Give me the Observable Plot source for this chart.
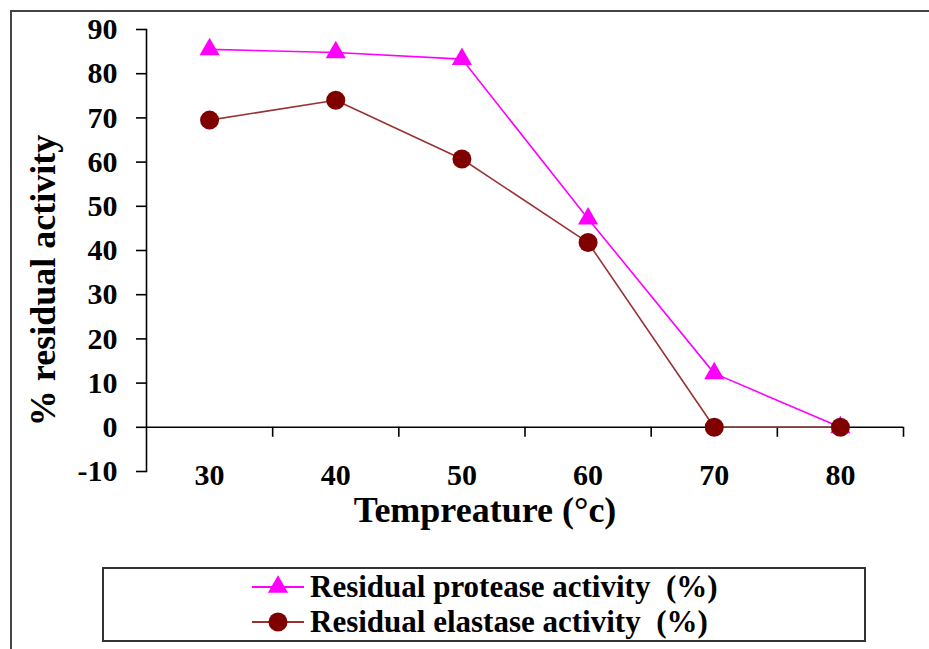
<!DOCTYPE html>
<html>
<head>
<meta charset="utf-8">
<script src="https://cdn.jsdelivr.net/npm/d3@7"></script>
<script src="https://cdn.jsdelivr.net/npm/@observablehq/plot@0.6"></script>
<style>
  html, body { margin: 0; padding: 0; background: #fff; overflow: hidden; }
  #wrap { position: relative; width: 929px; height: 649px; overflow: hidden; background: #fff;
          font-family: "Liberation Serif", "Times New Roman", serif; }
  #border { position: absolute; left: 10px; top: 10px; width: 1000px; height: 800px;
            border: 2px solid #444; box-sizing: border-box; }
  #chart { position: absolute; left: 0; top: 0; }
  #legend { position: absolute; left: 102px; top: 567px; width: 764px; height: 75px;
            border: 2px solid #333; box-sizing: border-box; background: #fff; }
  .row { position: absolute; left: 0; height: 34px; display: flex; align-items: center;
         font-weight: bold; font-size: 31px; color: #000; white-space: pre; }
  .row svg { margin-right: 6px; }
</style>
</head>
<body>
<div id="wrap">
  <div id="border"></div>
  <div id="chart"></div>
  <div id="legend"></div>
</div>
<script>
// ---- data ----
const temperatures = [30, 40, 50, 60, 70, 80];
const proteaseActivity = [85.5, 84.8, 83.3, 47.2, 12.2, 0];
const elastaseActivity = [69.5, 74.0, 60.7, 41.8, 0, 0];
const yTicks = [-10, 0, 10, 20, 30, 40, 50, 60, 70, 80, 90];
const xBoundaries = [35, 45, 55, 65, 75, 85];
const seriesNames = ["Residual protease activity  (%)", "Residual elastase activity  (%)"];
const xTitle = "Tempreature (°c)";
const yTitle = "% residual activity";

const protease = temperatures.map((t, i) => ({t, v: proteaseActivity[i]}));
const elastase = temperatures.map((t, i) => ({t, v: elastaseActivity[i]}));

const FONT = "Liberation Serif, Times New Roman, serif";
const PINK = "#FF00FF";
const MAROON_LINE = "#993333";
const MAROON_DOT = "#800000";

const chart = Plot.plot({
  width: 929,
  height: 560,
  marginLeft: 146,
  marginRight: 26,
  marginTop: 29,
  marginBottom: 89,
  style: {fontFamily: FONT, color: "#000", background: "transparent"},
  x: {type: "linear", domain: [25, 85]},
  y: {domain: [-10, 90]},
  marks: [
    Plot.frame({anchor: "left", stroke: "#000", strokeWidth: 1.6}),
    Plot.axisY({ticks: yTicks, tickSize: 10, tickPadding: 19, strokeWidth: 1.6,
                fontSize: 30, fontWeight: "bold", label: null, tickFormat: d => String(d)}),
    Plot.axisX({ticks: temperatures, tickSize: 0, tickPadding: -8,
                fontSize: 30, fontWeight: "bold", label: null, tickFormat: d => String(d)}),
    Plot.ruleY([0], {stroke: "#000", strokeWidth: 1.6}),
    Plot.ruleX(xBoundaries, {y1: 0, y2: 0, insetBottom: -10, stroke: "#000", strokeWidth: 1.6}),
    Plot.line(protease, {x: "t", y: "v", stroke: PINK, strokeWidth: 1.6}),
    Plot.dot(protease, {x: "t", y: "v", symbol: "triangle", r: 7.5, fill: PINK, stroke: "none"}),
    Plot.line(elastase, {x: "t", y: "v", stroke: MAROON_LINE, strokeWidth: 1.6}),
    Plot.dot(elastase, {x: "t", y: "v", symbol: "circle", r: 9.5, fill: MAROON_DOT, stroke: "none"}),
    Plot.text([yTitle], {frameAnchor: "left", textAnchor: "middle", lineAnchor: "middle",
                         rotate: -90, dx: -103, dy: 30, fontSize: 36, fontWeight: "bold", fill: "#000"}),
    Plot.text([xTitle], {frameAnchor: "bottom", textAnchor: "middle", lineAnchor: "middle",
                         dx: -40, dy: 39, fontSize: 36, fontWeight: "bold", fill: "#000"})
  ]
});
document.getElementById("chart").appendChild(chart);

// ---- legend ----
const legend = document.getElementById("legend");
const swatches = [
  {name: seriesNames[0], stroke: PINK, fill: PINK, symbol: d3.symbolTriangle, size: Math.PI * 7.5 * 7.5},
  {name: seriesNames[1], stroke: MAROON_LINE, fill: MAROON_DOT, symbol: d3.symbolCircle, size: Math.PI * 9.5 * 9.5}
];
swatches.forEach((s, i) => {
  const row = document.createElement("div");
  row.className = "row";
  row.style.top = (i === 0 ? 1 : 36) + "px";
  row.style.left = "148px";
  const svg = d3.create("svg").attr("width", 52).attr("height", 34);
  svg.append("line").attr("x1", 0).attr("x2", 52).attr("y1", 17).attr("y2", 17)
     .attr("stroke", s.stroke).attr("stroke-width", 1.8);
  svg.append("path").attr("transform", "translate(26,17)")
     .attr("d", d3.symbol(s.symbol, s.size)()).attr("fill", s.fill);
  row.appendChild(svg.node());
  const span = document.createElement("span");
  span.textContent = s.name;
  row.appendChild(span);
  legend.appendChild(row);
});
</script>
</body>
</html>
